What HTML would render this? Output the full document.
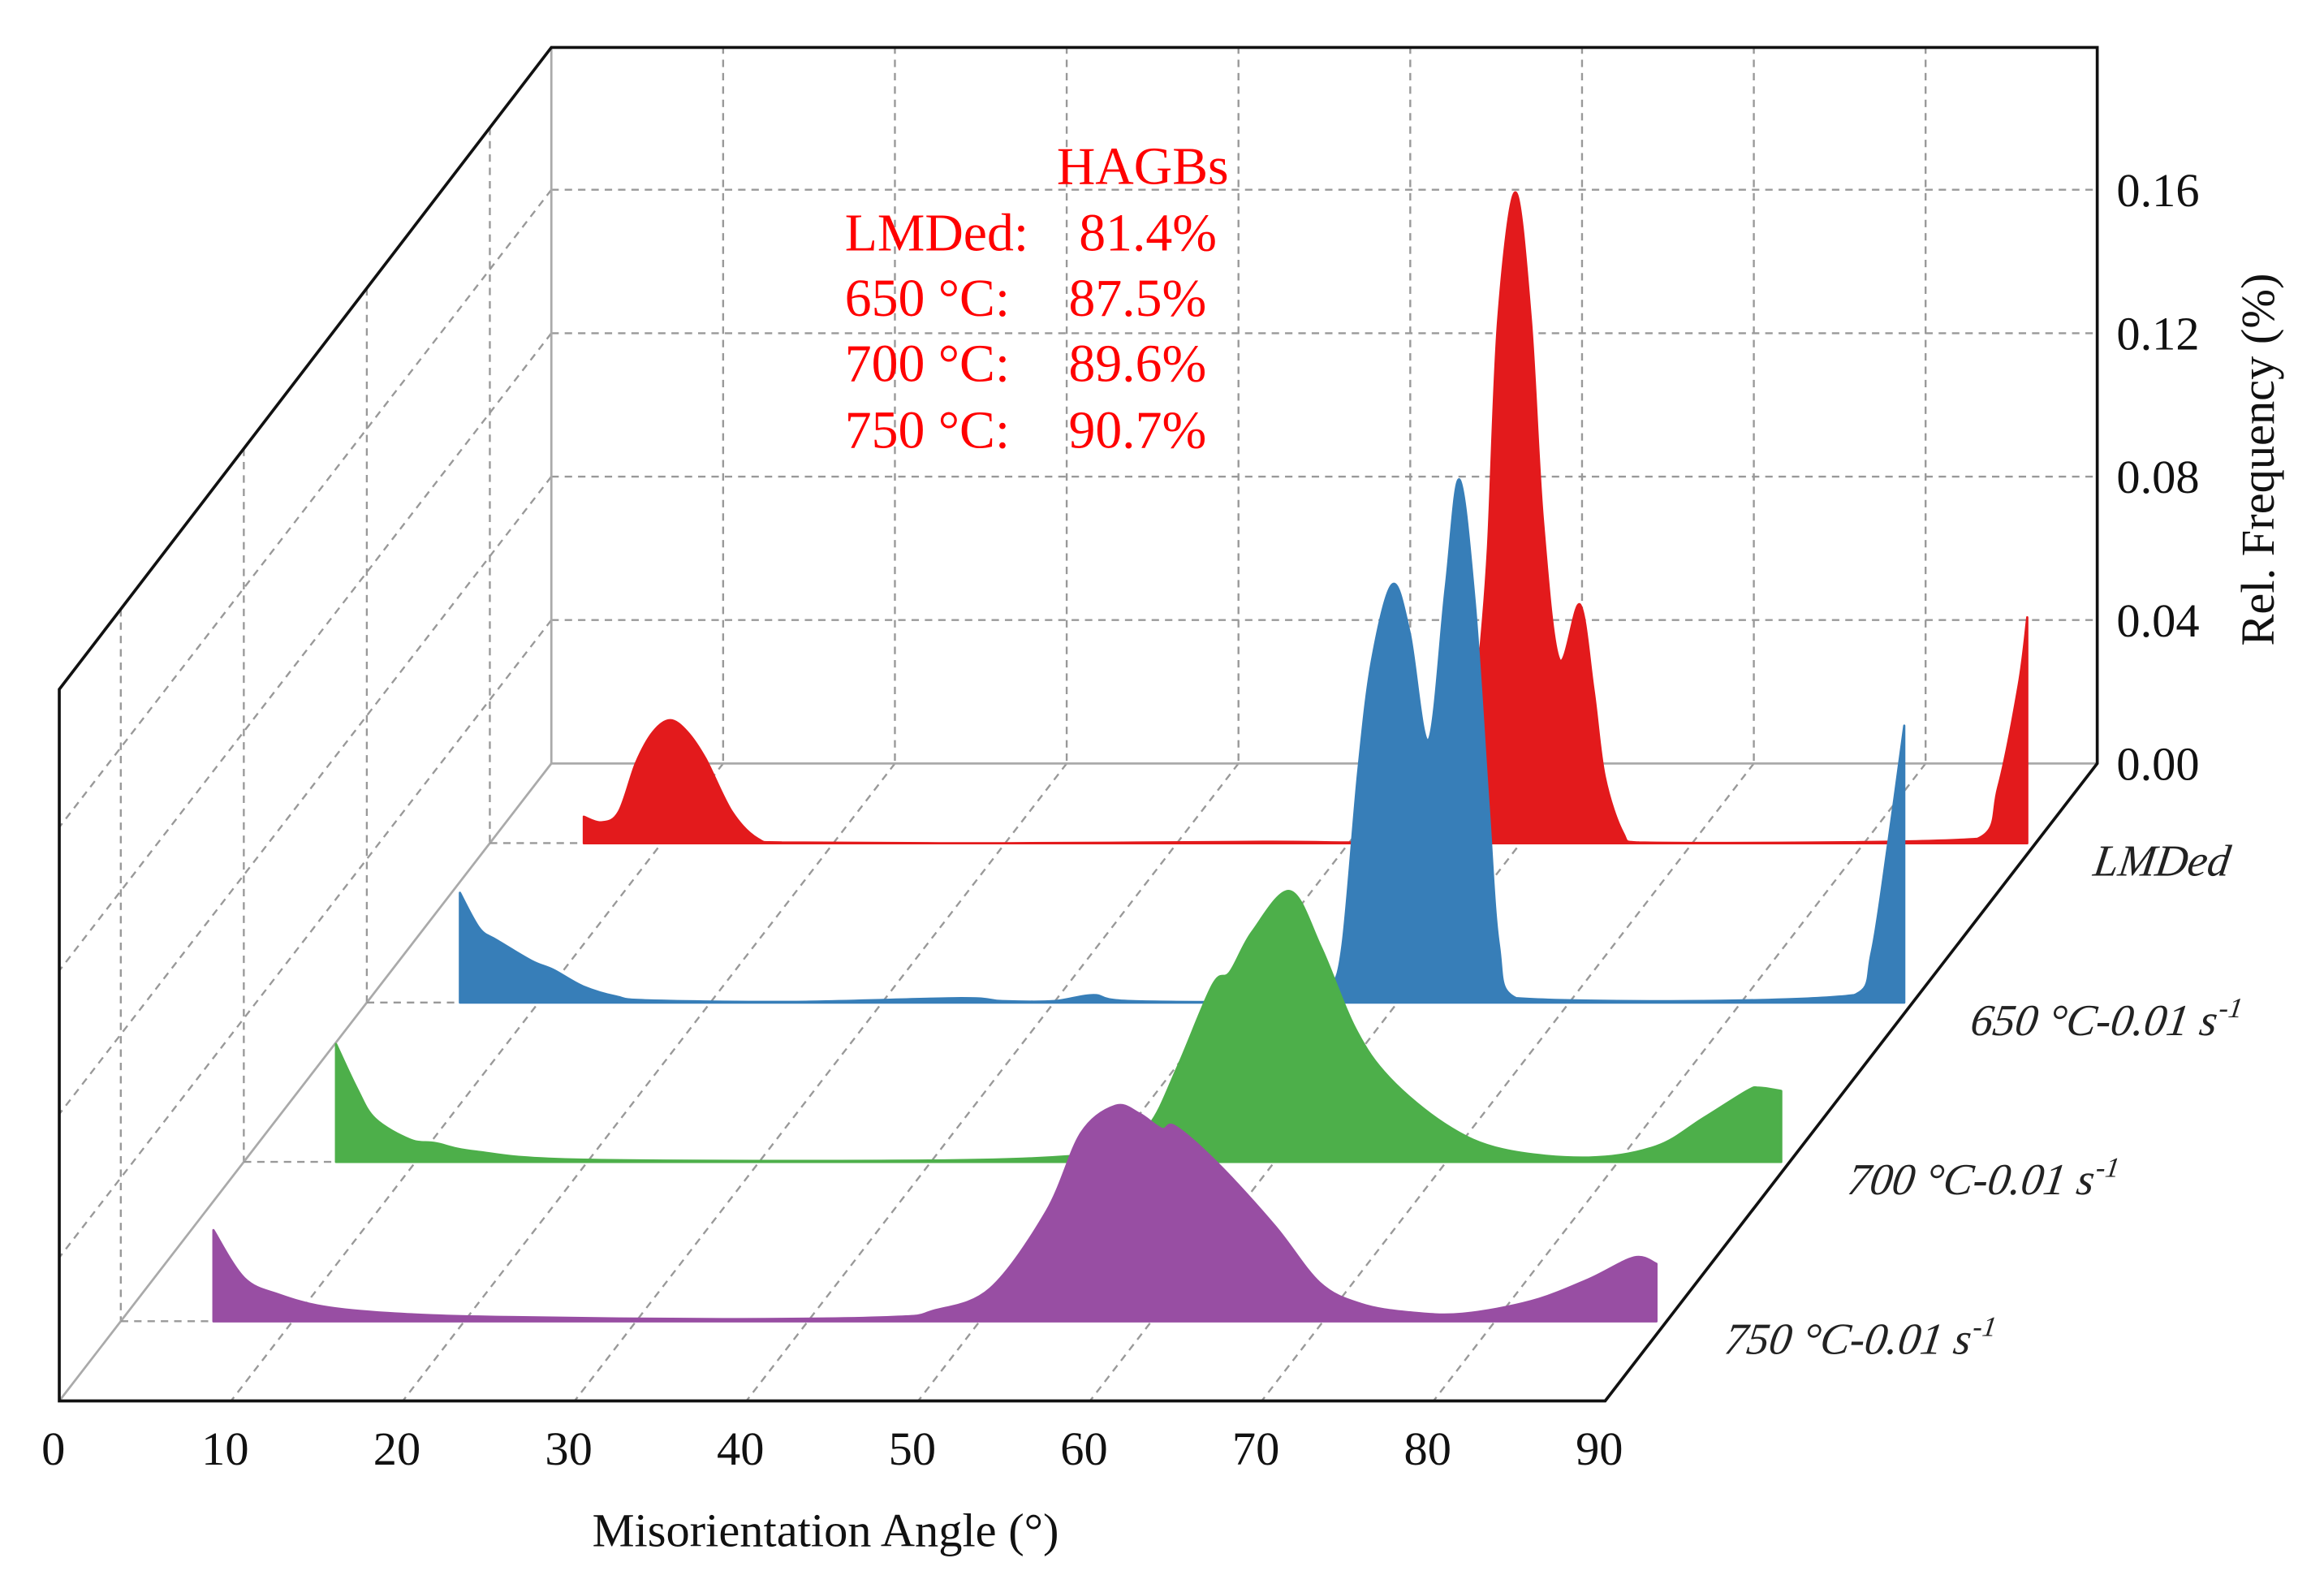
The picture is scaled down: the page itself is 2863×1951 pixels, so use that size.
<!DOCTYPE html>
<html><head><meta charset="utf-8"><style>
html,body{margin:0;padding:0;background:#fff;}
svg{display:block;}
text{font-family:"Liberation Serif",serif;}
</style></head><body>
<svg id="chart" width="2863" height="1951" viewBox="0 0 1568 1068.5" preserveAspectRatio="none" xmlns="http://www.w3.org/2000/svg">
<g id="grid"></g>
<g id="series"></g>
<g id="frame"></g>
<g id="labels"></g>
<g fill="#ff0000" font-size="36">
<text x="713" y="124">HAGBs</text>
<text x="570" y="169">LMDed:</text>
<text x="728" y="169">81.4%</text>
<text x="570" y="213">650 °C:</text>
<text x="721" y="213">87.5%</text>
<text x="570" y="257">700 °C:</text>
<text x="721" y="257">89.6%</text>
<text x="570" y="302">750 °C:</text>
<text x="721" y="302">90.7%</text>
</g>
</svg>
<script>
const xTicks = [0,10,20,30,40,50,60,70,80,90];
const yTicks = [0.00,0.04,0.08,0.12,0.16];
const seriesNames = ["LMDed","650 °C-0.01 s","700 °C-0.01 s","750 °C-0.01 s"];
const seriesColors = ["#e31a1c","#377eb8","#4daf4a","#984ea3"];
const redAngles = [5.47,6.5,7.5,8.5,9.5,10.5,11.5,12.55,14.1,15.6,17,30,45,50,56,57,57.6,58.1,58.7,59.7,60.6,61.3,62.25,63.45,64.25,64.9,65.96,66.9,86.6,87.8,89.0,89.5];
const redValues = [.0074,.0058,.0087,.0223,.031,.0343,.031,.0236,.0087,.0012,.0002,0,.0004,.0002,.0004,.0165,.0504,.0823,.1459,.1815,.1459,.0901,.0513,.0666,.0426,.0186,.0029,.0002,.0012,.0155,.0441,.063];
const blueAngles = [5.42,6.56,7.57,9.6,10.86,12.6,14.5,16.4,25,34.6,37,40,42.3,44.5,55,56.1,56.8,57.7,58.5,59.7,60.7,61.8,62.8,63.6,64.5,65.3,65.9,66.9,86.6,87.6,88.6,89.5];
const blueValues = [.0306,.0207,.0174,.0116,.0091,.0045,.0017,.0006,.0002,.0012,.0004,.0004,.0021,.0004,.0004,.0041,.0161,.0637,.0951,.1166,.1033,.0732,.1157,.1459,.1112,.0554,.0161,.0012,.0021,.014,.0457,.0772];
const greenAngles = [5.37,6.6,7.65,9.7,11.2,13.5,19.8,40,48.4,50.5,52.7,54.4,56.4,57.4,58.7,60.9,62.7,64.7,66.7,70,73.3,78.3,82.2,84.9,87.5,88.2,89.5];
const greenValues = [.0329,.0203,.012,.0062,.0052,.0029,.0006,.0004,.0017,.0041,.0103,.0269,.0494,.0529,.0641,.0755,.0599,.0372,.0234,.0103,.0035,.0012,.0043,.012,.0198,.0207,.0198];
const purpleAngles = [5.39,7.2,9.24,11.8,15.6,21.9,35,45,47.3,50.6,53.9,55.9,57.9,59.3,60.6,61.4,63.9,67.2,69.8,72.2,75,78.1,82.1,85.4,88.1,89.4];
const purpleValues = [.0254,.012,.0074,.0041,.0023,.0012,.0006,.0012,.0029,.0091,.0308,.0525,.0601,.0579,.0537,.0543,.0438,.0265,.0107,.0048,.0025,.0021,.0056,.0116,.0178,.016];

const NS="http://www.w3.org/2000/svg";
const BX=372, BY=515, PX=115.9/10, PY=96.75/0.04, DX=-332, DY=430;
function xBack(a){return BX+a*PX;}
function yBack(v){return BY-v*PY;}
function depthX(f){return DX*f;}
function depthY(f){return DY*f;}
function mk(tag,attrs,parent){const e=document.createElementNS(NS,tag);for(const k in attrs)e.setAttribute(k,attrs[k]);parent.appendChild(e);return e;}
const grid=document.getElementById('grid'), ser=document.getElementById('series'), frame=document.getElementById('frame'), lab=document.getElementById('labels');
const dash={stroke:"#999","stroke-width":1.3,"stroke-dasharray":"5,4",fill:"none"};
function line(p,x1,y1,x2,y2,st){const a=Object.assign({x1:x1,y1:y1,x2:x2,y2:y2},st);return mk('line',a,p);}
xTicks.forEach((t,i)=>{
  if(i>0&&i<xTicks.length-1){
    const v=line(grid,xBack(t),yBack(0.2),xBack(t),BY,dash);
    
    
    const d=line(grid,xBack(t),BY,xBack(t)+DX,BY+DY,dash);
    
    
  }
});
const topY=32;
yTicks.forEach((v)=>{
  if(v>0){
    const h=line(grid,BX,yBack(v),xBack(90),yBack(v),dash);
    
    
    const s=line(grid,BX,yBack(v),BX+DX,yBack(v)+DY,dash);
    
    
  }
});
seriesNames.forEach((n,k)=>{
  const f=(k+0.5)/4;
  const x=BX+depthX(f), yt=topY+(465-topY)*f, yb=BY+depthY(f);
  const v=line(grid,x,yt,x,yb,dash);
  
  
});
const g1=line(grid,BX,topY,BX,BY,{stroke:"#aaa","stroke-width":1.5});


const g2=line(grid,BX,BY,xBack(90),BY,{stroke:"#aaa","stroke-width":1.5});


const g3=line(grid,BX,BY,BX+DX,BY+DY,{stroke:"#aaa","stroke-width":1.5});


const allA=[redAngles,blueAngles,greenAngles,purpleAngles], allV=[redValues,blueValues,greenValues,purpleValues];
seriesNames.forEach((n,k)=>{
  const f=(k+0.5)/4, ox=depthX(f), oy=depthY(f);
  const A=allA[k], V=allV[k];
  const base=BY+oy;
  const dl=line(ser,BX+ox,base,xBack(A[0])+ox,base,dash);
  
  
  const P=A.map((a,i)=>[xBack(a)+ox, yBack(V[i])+oy]);
  let d="M"+P[0][0].toFixed(1)+","+base.toFixed(1)+" L"+P[0][0].toFixed(1)+","+P[0][1].toFixed(1);
  for(let i=0;i<P.length-1;i++){
    const p0=P[Math.max(0,i-1)],p1=P[i],p2=P[i+1],p3=P[Math.min(P.length-1,i+2)];
    const t=1/6;
    let c1x=p1[0]+(p2[0]-p0[0])*t, c1y=Math.min(base,p1[1]+(p2[1]-p0[1])*t);
    let c2x=p2[0]-(p3[0]-p1[0])*t, c2y=Math.min(base,p2[1]-(p3[1]-p1[1])*t);
    c1x=Math.min(Math.max(c1x,p1[0]),p2[0]); c2x=Math.min(Math.max(c2x,p1[0]),p2[0]);
    d+=" C"+c1x.toFixed(1)+","+c1y.toFixed(1)+" "+c2x.toFixed(1)+","+c2y.toFixed(1)+" "+p2[0].toFixed(1)+","+p2[1].toFixed(1);
  }
  d+=" L"+P[P.length-1][0].toFixed(1)+","+base.toFixed(1)+" Z";
  const p=mk('path',{d:d,fill:seriesColors[k],stroke:seriesColors[k],"stroke-width":1.5,"stroke-linejoin":"round"},ser);
  
  
  const tx=mk('text',{x:xBack(90)+ox+38,y:base+22,"font-size":30,"font-style":"italic",fill:"#222",transform:"skewX(-8)","transform-origin":(xBack(90)+ox+38)+" "+(base+22)},lab);
  tx.textContent=n;
  if(k>0){const sp=mk('tspan',{dy:-12,"font-size":19},tx);sp.textContent="-1";}
  
  
});
const fr=mk('path',{d:"M372,32 L1415,32 L1415,515 L1083,945 L40,945 L40,465 Z",fill:"none",stroke:"#111","stroke-width":2},frame);


xTicks.forEach(t=>{
  const e=mk('text',{x:xBack(t)+DX-4,y:BY+DY+43,"font-size":32,"text-anchor":"middle",fill:"#111"},lab);
  e.textContent=String(t);
  
  
});
yTicks.forEach(v=>{
  const e=mk('text',{x:1428,y:yBack(v)+11,"font-size":32,fill:"#111"},lab);
  e.textContent=v.toFixed(2);
  
  
});
const xt=mk('text',{x:557,y:1043,"font-size":32,"text-anchor":"middle",fill:"#111"},lab);
xt.textContent="Misorientation Angle (°)";


const yt=mk('text',{x:0,y:0,"font-size":32,"text-anchor":"middle",fill:"#111",transform:"translate(1534,310) rotate(-90)"},lab);
yt.textContent="Rel. Frequency (%)";


</script>
</body></html>
